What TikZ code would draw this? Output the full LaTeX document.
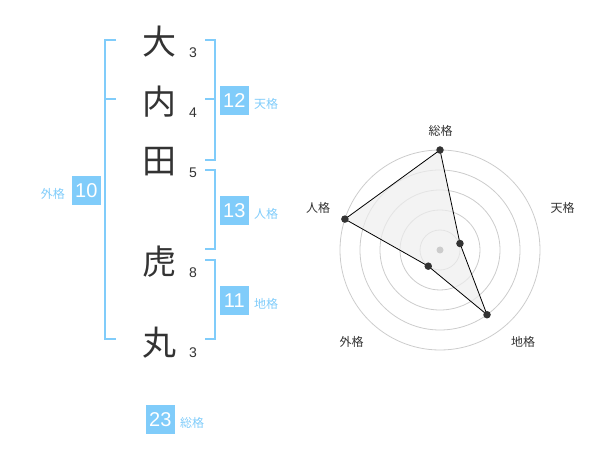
\documentclass[tikz,border=0pt]{standalone}
\usepackage{fontspec}
\setmainfont{Liberation Sans}
\newfontfamily\cjk{Noto Sans CJK JP}
\definecolor{kblue}{RGB}{128,204,250}
\definecolor{kdark}{RGB}{51,51,51}
\definecolor{kring}{RGB}{204,204,204}
\definecolor{kfill}{RGB}{238,238,238}
\begin{document}
\begin{tikzpicture}[x=1pt,y=-1pt,
  kanji/.style={font=\cjk\fontsize{34}{34}\selectfont,text=kdark,inner sep=0pt},
  strokes/.style={font=\fontsize{14}{14}\selectfont,text=kdark,inner sep=0pt},
  numbox/.style={fill=kblue,text=white,minimum width=28.7pt,minimum height=28.7pt,inner sep=0pt,font=\fontsize{20}{20}\selectfont},
  kaku/.style={font=\cjk\fontsize{12}{12}\selectfont,text=kblue,inner sep=0pt},
  rlabel/.style={font=\cjk\fontsize{12}{12}\selectfont,text=kdark,inner sep=0pt},
  brk/.style={draw=kblue,line width=2pt},
  ring/.style={draw=kring,line width=0.8pt},
  poly/.style={draw=black,line width=0.8pt,fill=kfill,fill opacity=0.7},
  dot/.style={circle,fill=kdark,inner sep=0pt,minimum size=7.5pt}]
\useasboundingbox (0,0) rectangle (600,470);
% name characters
\node[kanji] (k1) at (159,42) {大};
\node[kanji] (k2) at (159,102) {内};
\node[kanji] (k3) at (159,162) {田};
\node[kanji] (k4) at (159,262) {虎};
\node[kanji] (k5) at (159,343) {丸};
\node[strokes] (s1) at (193,53) {3};
\node[strokes] (s2) at (193,113) {4};
\node[strokes] (s3) at (193,173) {5};
\node[strokes] (s4) at (193,273) {8};
\node[strokes] (s5) at (193,353) {3};
% brackets
\draw[brk] (116,40) -- (105,40) -- (105,339.5) -- (116,339.5);
\draw[brk] (105,99.5) -- (116,99.5);
\draw[brk] (205,40) -- (215,40) -- (215,160) -- (205,160);
\draw[brk] (205,99.5) -- (215,99.5);
\draw[brk] (205,170) -- (215,170) -- (215,249.5) -- (205,249.5);
\draw[brk] (205,260) -- (215,260) -- (215,339.5) -- (205,339.5);
% boxes and labels
\node[numbox] (b1) at (234.3,100.3) {12};
\node[kaku,anchor=west] (l1) at (254,104.3) {天格};
\node[numbox] (b2) at (234.3,210.3) {13};
\node[kaku,anchor=west] (l2) at (254,214) {人格};
\node[numbox] (b3) at (234.3,300.3) {11};
\node[kaku,anchor=west] (l3) at (254,304) {地格};
\node[numbox] (b4) at (86.3,190.3) {10};
\node[kaku,anchor=east] (l4) at (65,194) {外格};
\node[numbox] (b5) at (160.3,419.3) {23};
\node[kaku,anchor=west] (l5) at (180,422.7) {総格};
% radar
\begin{scope}[shift={(440,250)}]
\coordinate (c) at (0,0);
\foreach \r in {20,40,60,80,100} \draw[ring] (c) circle[radius=\r];
\coordinate (pS) at (-90:100);
\coordinate (pT) at (-18:21);
\coordinate (pC) at (54:80);
\coordinate (pG) at (126:20);
\coordinate (pJ) at (-162:100);
\draw[poly] (pS) -- (pT) -- (pC) -- (pG) -- (pJ) -- cycle;
\fill[kring] (c) circle[radius=3.5];
\foreach \p in {pS,pT,pC,pG,pJ} \node[dot] at (\p) {};
\node[rlabel] (rS) at (0.7,-119.3) {総格};
\node[rlabel] (rT) at (122.7,-41.7) {天格};
\node[rlabel] (rJ) at (-122,-42) {人格};
\node[rlabel] (rG) at (-88.3,92) {外格};
\node[rlabel] (rC) at (83,92) {地格};
\end{scope}
\end{tikzpicture}
\end{document}
